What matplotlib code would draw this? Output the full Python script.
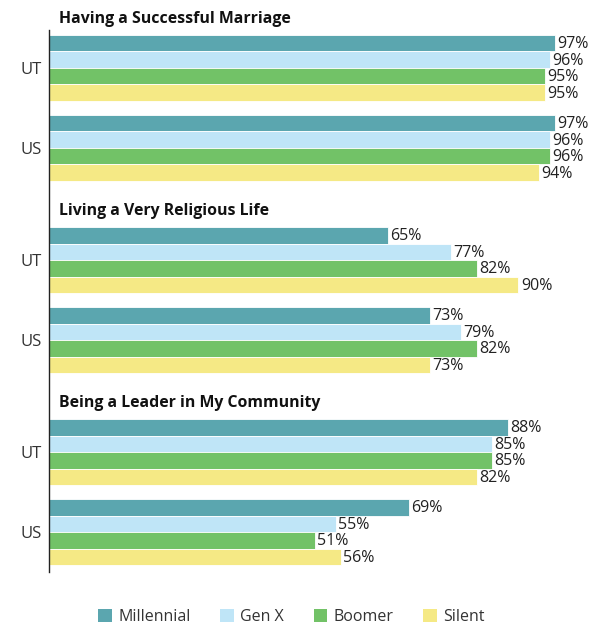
import matplotlib
matplotlib.use("Agg")
import matplotlib.pyplot as plt
from matplotlib.patches import Patch

plt.rcParams["font.family"] = ["Open Sans", "DejaVu Sans"]

sections = ["Having a Successful Marriage", "Living a Very Religious Life",
            "Being a Leader in My Community"]
groups = ["UT", "US"]
generations = ["Millennial", "Gen X", "Boomer", "Silent"]
colors = ["#5BA6AF", "#BFE5F7", "#72C267", "#F5E985"]

# values[section][group] -> [Millennial, Gen X, Boomer, Silent]
marriage = [[97, 96, 95, 95], [97, 96, 96, 94]]
religious = [[65, 77, 82, 90], [73, 79, 82, 73]]
leader = [[88, 85, 85, 82], [69, 55, 51, 56]]
values = [marriage, religious, leader]

SEC_STEP = 11.64
GRP_STEP = 4.85
TOP = 0.8

fig = plt.figure(figsize=(5.95, 6.28), dpi=100)
ax = fig.add_axes([49 / 595, 1 - 572 / 628, 521.6 / 595, 542 / 628])

ticks = []
for s, sec in enumerate(values):
    for g, vals in enumerate(sec):
        base = TOP + s * SEC_STEP + g * GRP_STEP
        ys = [base + k for k in range(4)]
        ax.barh(ys, vals, height=1.0, color=colors, edgecolor="white", linewidth=0.6)
        for y, v in zip(ys, vals):
            ax.text(v + 0.45, y + 0.05, f"{v}%", va="center", ha="left",
                    fontsize=11.5, color="#222222")
        ticks.append(base + 1.5)
    ax.text(1.9, -0.67 + s * SEC_STEP, sections[s], fontsize=11.4, fontweight="bold",
            va="center", ha="left", color="#111111", clip_on=False)

ax.set_yticks(ticks)
ax.set_yticklabels(groups * 3, fontsize=12, color="#333333")
ax.tick_params(axis="y", length=0, pad=5.5)
ax.set_xticks([])
ax.set_xlim(0, 100)
ax.set_ylim(542 / 16.5, 0)
for side in ["top", "right", "bottom"]:
    ax.spines[side].set_visible(False)
ax.spines["left"].set_color("#222222")
ax.spines["left"].set_linewidth(1.0)

handles = [Patch(facecolor=c, edgecolor="none") for c in colors]
fig.legend(handles, generations, loc="center", bbox_to_anchor=(0.49, 1 - 617 / 628),
           ncol=4, frameon=False, fontsize=11.5, handlelength=0.85, handleheight=0.85,
           handletextpad=0.4, columnspacing=1.85, labelcolor="#333333")

fig.savefig("out.png", dpi=100)
